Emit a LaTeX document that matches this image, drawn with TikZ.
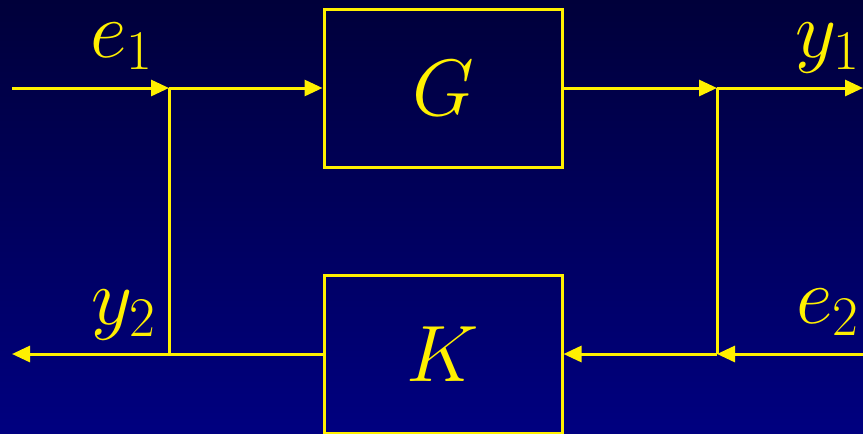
\documentclass[tikz,border=0pt]{standalone}
\usepackage{fix-cm}
\usetikzlibrary{arrows.meta}
\definecolor{bgtop}{RGB}{0,0,58}
\definecolor{bgbot}{RGB}{0,0,128}
\definecolor{ylw}{RGB}{255,240,0}
\tikzset{
  wire/.style={draw=ylw, line width=1.5pt},
  arr/.style={wire, -{Triangle[length=9pt,width=8pt]}},
  blockbox/.style={draw=ylw, line width=1.5pt, minimum width=119pt, minimum height=79pt, inner sep=0pt, text=ylw, font=\fontsize{40}{48}\selectfont},
  lbl/.style={text=ylw, inner sep=0pt, anchor=base, font=\fontsize{40}{48}\selectfont}
}
\begin{document}
\begin{tikzpicture}[x=0.5pt, y=-0.5pt]
\useasboundingbox (0,0) rectangle (863,434);
\shade[top color=bgtop, bottom color=bgbot] (0,0) rectangle (863,434);
\node[blockbox] (G) at (443,88) {$G$};
\node[blockbox] (K) at (443,354.5) {$K$};
\coordinate (in1) at (12,88);
\coordinate (j1) at (169,88);
\coordinate (j2) at (717,88);
\coordinate (out1) at (863,88);
\coordinate (in2) at (863,354);
\coordinate (j3) at (717,354);
\coordinate (j4) at (169,354);
\coordinate (out2) at (12,354);
\draw[arr] (in1) -- (j1);
\draw[arr] (j1) -- (G.west);
\draw[arr] (G.east) -- (j2);
\draw[arr] (j2) -- (out1);
\draw[arr] (in2) -- (j3);
\draw[arr] (j3) -- (K.east |- j3);
\draw[wire] (K.west |- j4) -- (j4);
\draw[arr] (j4) -- (out2);
\draw[wire] (j1) -- (j4);
\draw[wire] (j2) -- (j3);
\node[lbl] (le1) at (122,57) {$e_1$};
\node[lbl] (ly1) at (828,57) {$y_1$};
\node[lbl] (ly2) at (124,324) {$y_2$};
\node[lbl] (le2) at (828,323) {$e_2$};
\end{tikzpicture}
\end{document}
